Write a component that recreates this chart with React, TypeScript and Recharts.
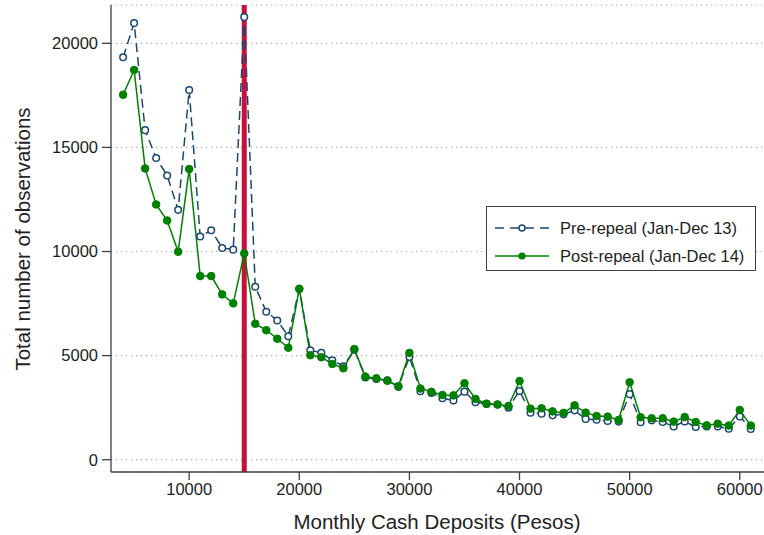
import React from "react";
import {
  LineChart,
  Line,
  XAxis,
  YAxis,
  CartesianGrid,
  ReferenceLine,
  Legend,
} from "recharts";

// Monthly cash deposit bins (pesos)
const deposits = [
  4000, 5000, 6000, 7000, 8000, 9000, 10000, 11000, 12000, 13000,
  14000, 15000, 16000, 17000, 18000, 19000, 20000, 21000, 22000, 23000,
  24000, 25000, 26000, 27000, 28000, 29000, 30000, 31000, 32000, 33000,
  34000, 35000, 36000, 37000, 38000, 39000, 40000, 41000, 42000, 43000,
  44000, 45000, 46000, 47000, 48000, 49000, 50000, 51000, 52000, 53000,
  54000, 55000, 56000, 57000, 58000, 59000, 60000, 61000,
];

// Observations, Jan-Dec 2013 (before the repeal)
const preRepeal = [
  19330, 20970, 15830, 14490, 13650, 12000, 17760, 10720, 11020, 10170,
  10090, 21260, 8310, 7110, 6690, 5930, 8200, 5260, 5130, 4780,
  4490, 5280, 3950, 3880, 3820, 3500, 4940, 3290, 3210, 2950,
  2850, 3270, 2760, 2680, 2650, 2500, 3300, 2260, 2210, 2130,
  2180, 2370, 1960, 1920, 1860, 1830, 3150, 1800, 1890, 1810,
  1600, 1840, 1570, 1600, 1600, 1490, 2070, 1480,
];

// Observations, Jan-Dec 2014 (after the repeal)
const postRepeal = [
  17530, 18720, 13990, 12260, 11490, 9990, 13960, 8820, 8820, 7940,
  7510, 9910, 6530, 6220, 5810, 5380, 8210, 5020, 4920, 4600,
  4390, 5310, 3990, 3910, 3790, 3530, 5130, 3420, 3260, 3110,
  3090, 3670, 2920, 2690, 2650, 2580, 3780, 2450, 2470, 2320,
  2250, 2610, 2260, 2100, 2070, 1910, 3720, 2040, 1990, 1990,
  1830, 2050, 1810, 1650, 1730, 1640, 2390, 1640,
];

const xTicks = [10000, 20000, 30000, 40000, 50000, 60000];
const yTicks = [0, 5000, 10000, 15000, 20000];
const threshold = 15000;

const seriesNames = ["Pre-repeal (Jan-Dec 13)", "Post-repeal (Jan-Dec 14)"];

const data = deposits.map((x, i) => ({
  x,
  pre: preRepeal[i],
  post: postRepeal[i],
}));

const FONT = "'Liberation Sans', Arial, Helvetica, sans-serif";
const NAVY = "#1a476f";
const GREEN = "#008000";
const CRANBERRY = "#c8103c";
const AXIS = "#404040";

const LegendBox = () => (
  <div
    style={{
      width: 270,
      height: 65,
      border: `1.3px solid ${AXIS}`,
      background: "#fff",
      boxSizing: "border-box",
      fontFamily: FONT,
    }}
  >
    <svg width={268} height={63}>
      <line x1={8} x2={62} y1={21} y2={21} stroke={NAVY} strokeWidth={1.5} strokeDasharray="9 6" />
      <circle cx={35} cy={21} r={3} fill="#fff" stroke={NAVY} strokeWidth={1.5} />
      <text x={73} y={21} dy="0.355em" fontSize={16.5} fill="#222" fontFamily={FONT}>
        {seriesNames[0]}
      </text>
      <line x1={8} x2={62} y1={49} y2={49} stroke={GREEN} strokeWidth={1.5} />
      <circle cx={35} cy={49} r={3.6} fill={GREEN} />
      <text x={73} y={49} dy="0.355em" fontSize={16.5} fill="#222" fontFamily={FONT}>
        {seriesNames[1]}
      </text>
    </svg>
  </div>
);

const YTitle = () => (
  <text
    x={30}
    y={239}
    transform="rotate(-90 30 239)"
    textAnchor="middle"
    fontSize={20.5}
    fill="#222"
    fontFamily={FONT}
  >
    Total number of observations
  </text>
);

const XTitle = () => (
  <text x={437} y={529} textAnchor="middle" fontSize={20.5} fill="#222" fontFamily={FONT}>
    Monthly Cash Deposits (Pesos)
  </text>
);

export default function App() {
  return (
    <div style={{ position: "absolute", left: 0, top: 0, background: "#fff" }}>
      <LineChart
        width={764}
        height={535}
        data={data}
        margin={{ top: 5, right: 0, bottom: 0, left: 0 }}
      >
        <CartesianGrid
          vertical={false}
          stroke="#a8a8a8"
          strokeWidth={1.2}
          strokeDasharray="1.2 3.8"
        />
        <XAxis
          type="number"
          dataKey="x"
          domain={[2900, 62200]}
          ticks={xTicks}
          allowDataOverflow
          height={63}
          tickSize={8}
          tickMargin={3}
          stroke={AXIS}
          strokeWidth={1.3}
          tick={{ fill: "#222", fontSize: 16.5, fontFamily: FONT }}
          label={<XTitle />}
        />
        <YAxis
          type="number"
          domain={[-590, 21840]}
          ticks={yTicks}
          allowDataOverflow
          width={111}
          tickSize={9}
          tickMargin={4}
          stroke={AXIS}
          strokeWidth={1.3}
          tick={{ fill: "#222", fontSize: 16.5, fontFamily: FONT }}
          label={<YTitle />}
        />
        <ReferenceLine x={threshold} stroke={CRANBERRY} strokeWidth={5} />
        <Line
          type="linear"
          dataKey="pre"
          name={seriesNames[0]}
          stroke={NAVY}
          strokeWidth={1.5}
          strokeDasharray="9 5"
          dot={{ r: 3.3, fill: "#fff", stroke: NAVY, strokeWidth: 1.5, strokeDasharray: "none" }}
          isAnimationActive={false}
        />
        <Line
          type="linear"
          dataKey="post"
          name={seriesNames[1]}
          stroke={GREEN}
          strokeWidth={1.5}
          dot={{ r: 3.8, fill: GREEN, stroke: GREEN, strokeWidth: 1 }}
          isAnimationActive={false}
        />
        <Legend
          layout="vertical"
          align="center"
          verticalAlign="middle"
          content={<LegendBox />}
          wrapperStyle={{ position: "absolute", left: 486, top: 206, width: 270, height: 65 }}
        />
      </LineChart>
    </div>
  );
}
